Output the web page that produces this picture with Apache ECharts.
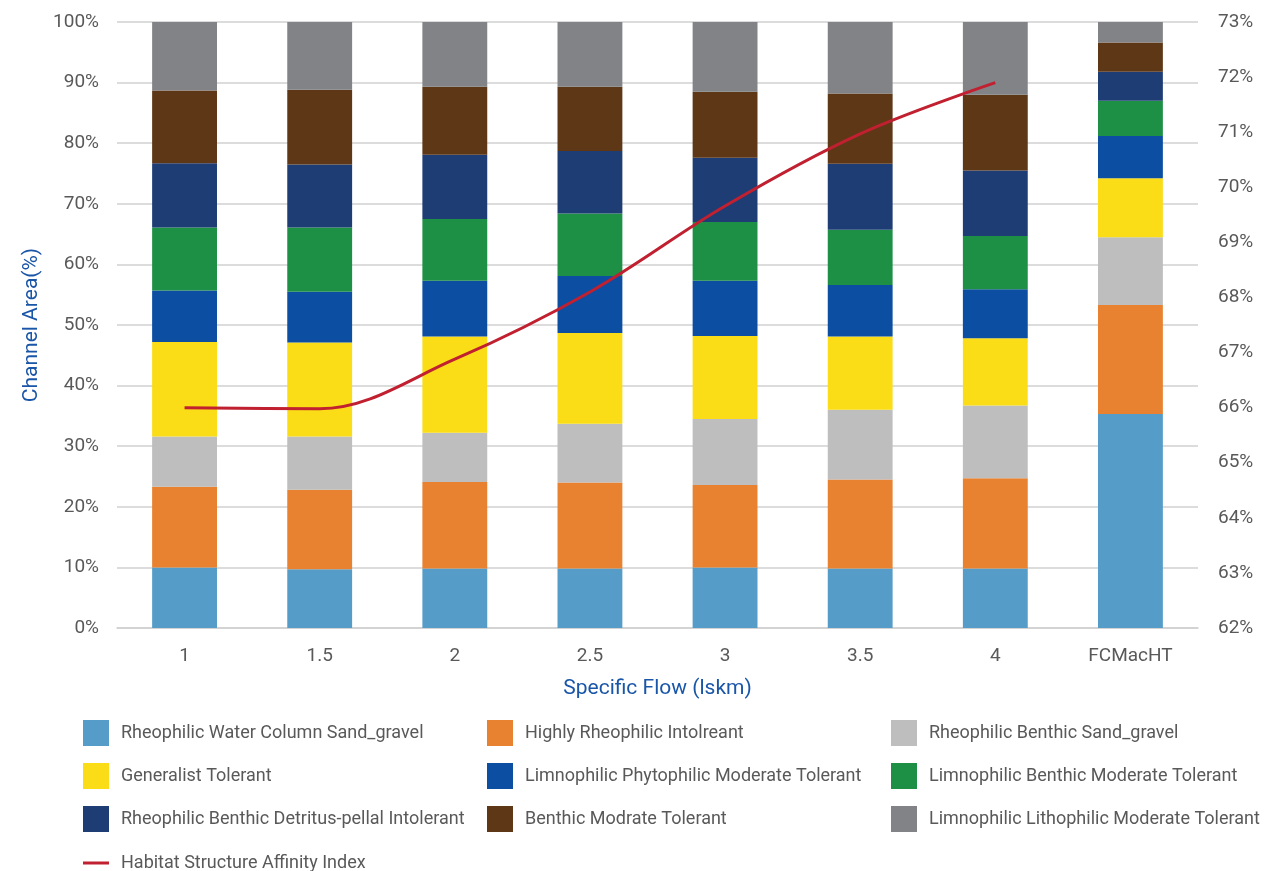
<!DOCTYPE html>
<html><head><meta charset="utf-8">
<script src="https://cdn.jsdelivr.net/npm/echarts@6/dist/echarts.min.js"></script>
<style>html,body{margin:0;padding:0;background:#fff}#c{width:1266px;height:871px}</style>
</head><body><div id="c"></div>
<script>
const categories = ['1','1.5','2','2.5','3','3.5','4','FCMacHT'];
const rheoWaterColumn = [10.0, 9.7, 9.8, 9.8, 10.0, 9.8, 9.8, 35.3];
const highlyRheo = [13.3, 13.1, 14.3, 14.2, 13.6, 14.7, 14.9, 18.0];
const rheoBenthicSand = [8.3, 8.8, 8.1, 9.7, 10.9, 11.5, 12.0, 11.2];
const generalist = [15.6, 15.5, 15.9, 15.0, 13.7, 12.1, 11.1, 9.7];
const limnoPhyto = [8.5, 8.4, 9.2, 9.4, 9.1, 8.5, 8.1, 7.0];
const limnoBenthic = [10.4, 10.6, 10.2, 10.3, 9.7, 9.1, 8.8, 5.8];
const rheoDetritus = [10.6, 10.4, 10.6, 10.3, 10.6, 10.9, 10.8, 4.8];
const benthicModrate = [12.0, 12.3, 11.2, 10.6, 10.9, 11.6, 12.5, 4.8];
const limnoLitho = [11.3, 11.2, 10.7, 10.7, 11.5, 11.8, 12.0, 3.4];
const habitatIndex = [66.0, 65.98, 66.88, 68.1, 69.66, 70.97, 71.9, null];
const leftTicks = {min: 0, max: 100, interval: 10};
const rightTicks = {min: 62, max: 73, interval: 1};

const barDefs = [
  ['Rheophilic Water Column Sand_gravel', rheoWaterColumn, '#559DC8'],
  ['Highly Rheophilic Intolreant', highlyRheo, '#E88230'],
  ['Rheophilic Benthic Sand_gravel', rheoBenthicSand, '#BDBEBD'],
  ['Generalist Tolerant', generalist, '#FBDD17'],
  ['Limnophilic Phytophilic Moderate Tolerant', limnoPhyto, '#0C4EA2'],
  ['Limnophilic Benthic Moderate Tolerant', limnoBenthic, '#1D9045'],
  ['Rheophilic Benthic Detritus-pellal Intolerant', rheoDetritus, '#1E3D75'],
  ['Benthic Modrate Tolerant', benthicModrate, '#5E3716'],
  ['Limnophilic Lithophilic Moderate Tolerant', limnoLitho, '#828387']
];
const lineName = 'Habitat Structure Affinity Index';
const txt = '#595959';
const font = 'Roboto, "Noto Sans", sans-serif';

const series = barDefs.map(([n, d, c]) => ({
  name: n, type: 'bar', stack: 'total', data: d, barWidth: '48%',
  itemStyle: {color: c}, clip: false
}));
series.push({
  name: lineName, type: 'line', yAxisIndex: 1, data: habitatIndex,
  smooth: 0.35, symbol: 'none', lineStyle: {color: '#C0202F', width: 3},
  itemStyle: {color: '#C0202F'}, z: 5
});

const legendBase = {
  orient: 'vertical', top: 720, itemWidth: 26, itemHeight: 26, itemGap: 17,
  padding: 0, icon: 'rect',
  textStyle: {color: txt, fontSize: 18, fontFamily: font, padding: [0,0,0,7]},
  selectedMode: false
};
const chart = echarts.init(document.getElementById('c'), null, {renderer: 'canvas'});
chart.setOption({
  animation: false,
  textStyle: {fontFamily: font},
  grid: {left: 117, right: 68, top: 22, bottom: 243, containLabel: false},
  legend: [
    Object.assign({}, legendBase, {left: 83, data: [barDefs[0][0], barDefs[3][0], barDefs[6][0]]}),
    Object.assign({}, legendBase, {left: 487, data: [barDefs[1][0], barDefs[4][0], barDefs[7][0]]}),
    Object.assign({}, legendBase, {left: 891, data: [barDefs[2][0], barDefs[5][0], barDefs[8][0]]}),
    Object.assign({}, legendBase, {left: 83, top: 854, itemHeight: 3, data: [lineName]})
  ],
  xAxis: {
    type: 'category', data: categories,
    axisLine: {lineStyle: {color: '#D0D0D0', width: 1.5}},
    axisTick: {show: false},
    axisLabel: {color: txt, fontSize: 19, margin: 19, fontFamily: font},
    name: 'Specific Flow (lskm)', nameLocation: 'middle', nameGap: 50,
    nameTextStyle: {color: '#1A56A8', fontSize: 21, fontFamily: font}
  },
  yAxis: [
    {
      type: 'value', min: leftTicks.min, max: leftTicks.max, interval: leftTicks.interval,
      axisLabel: {formatter: '{value}%', color: txt, fontSize: 19, margin: 18, fontFamily: font},
      axisLine: {show: false}, axisTick: {show: false},
      splitLine: {lineStyle: {color: '#D0D0D0', width: 1.5}},
      name: 'Channel Area(%)', nameLocation: 'middle', nameGap: 73, nameRotate: 90,
      nameTextStyle: {color: '#1A56A8', fontSize: 21, fontFamily: font}
    },
    {
      type: 'value', min: rightTicks.min, max: rightTicks.max, interval: rightTicks.interval,
      position: 'right',
      axisLabel: {formatter: '{value}%', color: txt, fontSize: 19, margin: 20, fontFamily: font},
      axisLine: {show: false}, axisTick: {show: false},
      splitLine: {show: false}
    }
  ],
  series: series
});
</script></body></html>
